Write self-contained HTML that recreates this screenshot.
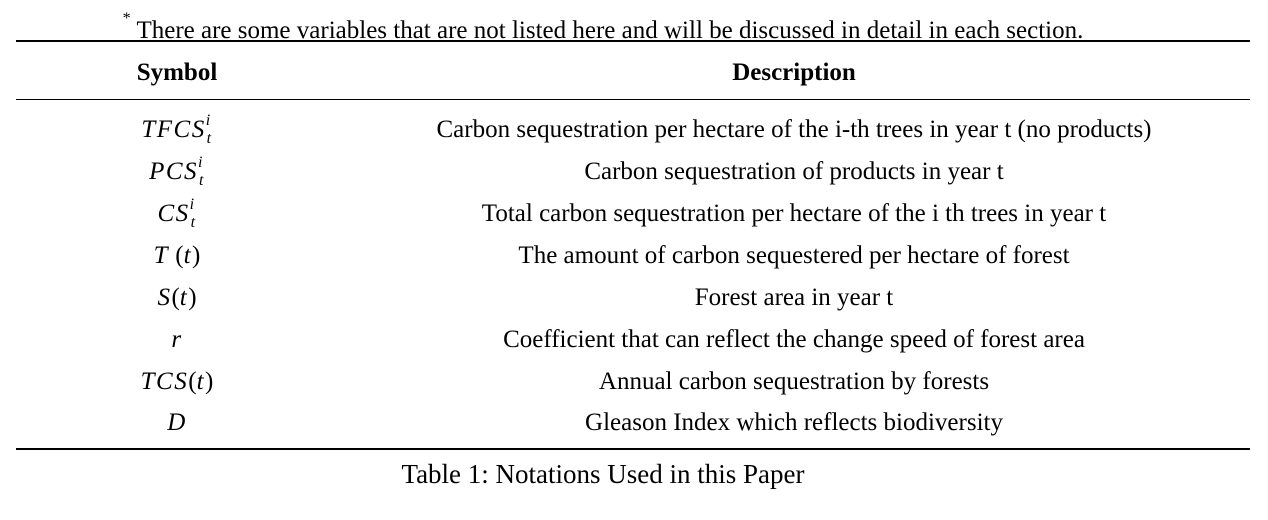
<!DOCTYPE html>
<html><head><meta charset="utf-8"><style>
body{margin:0;width:1268px;height:520px;background:#fff;position:relative;font-family:"Liberation Serif",serif;color:#000;overflow:hidden}
.t{position:absolute;white-space:nowrap;font-size:25px;line-height:28px;transform:translateX(-50%)}
.rule{position:absolute;left:16px;width:1234px;background:#000}
i{font-style:italic}
.m i{letter-spacing:1.5px}
sub,sup{font-size:16px;line-height:0}
sup{position:relative;top:-3px}
</style></head><body>
<div class="t" style="left:603px;top:17px"><sup style="font-size:16px;top:-6px">*</sup> There are some variables that are not listed here and will be discussed in detail in each section.</div>
<div class="rule" style="top:40px;height:2px"></div>
<div class="t" style="left:177px;top:59px;font-weight:bold">Symbol</div>
<div class="t" style="left:794px;top:59px;font-weight:bold">Description</div>
<div class="rule" style="top:99px;height:1px"></div>

<div class="t m" style="left:177px;top:116px"><i>TFCS</i><sup><i>i</i></sup><sub style="margin-left:-5px"><i>t</i></sub></div>
<div class="t" style="left:794px;top:116px">Carbon sequestration per hectare of the i-th trees in year t (no products)</div>
<div class="t m" style="left:177px;top:158px"><i>PCS</i><sup><i>i</i></sup><sub style="margin-left:-5px"><i>t</i></sub></div>
<div class="t" style="left:794px;top:158px">Carbon sequestration of products in year t</div>
<div class="t m" style="left:177px;top:200px"><i>CS</i><sup><i>i</i></sup><sub style="margin-left:-5px"><i>t</i></sub></div>
<div class="t" style="left:794px;top:200px">Total carbon sequestration per hectare of the i th trees in year t</div>
<div class="t m" style="left:177px;top:242px"><i>T</i> (<i>t</i>)</div>
<div class="t" style="left:794px;top:242px">The amount of carbon sequestered per hectare of forest</div>
<div class="t m" style="left:177px;top:284px"><i>S</i>(<i>t</i>)</div>
<div class="t" style="left:794px;top:284px">Forest area in year t</div>
<div class="t m" style="left:177px;top:326px"><i>r</i></div>
<div class="t" style="left:794px;top:326px">Coefficient that can reflect the change speed of forest area</div>
<div class="t m" style="left:177px;top:368px"><i>TCS</i>(<i>t</i>)</div>
<div class="t" style="left:794px;top:368px">Annual carbon sequestration by forests</div>
<div class="t m" style="left:177px;top:409px"><i>D</i></div>
<div class="t" style="left:794px;top:409px">Gleason Index which reflects biodiversity</div>

<div class="rule" style="top:448px;height:2px"></div>
<div class="t" style="left:603px;top:459px;font-size:27px;line-height:30px">Table 1: Notations Used in this Paper</div>
</body></html>
